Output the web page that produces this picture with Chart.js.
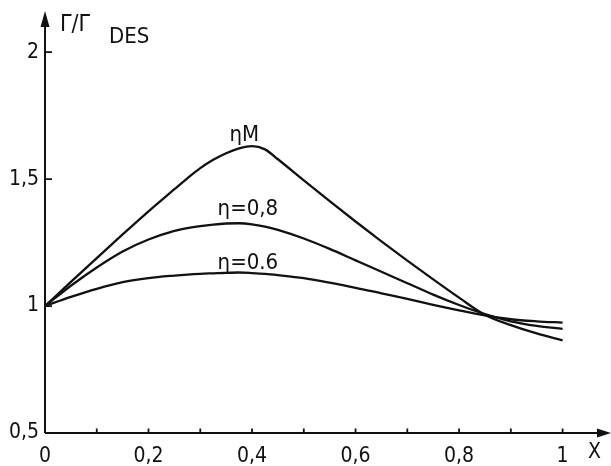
<!DOCTYPE html>
<html>
<head>
<meta charset="utf-8">
<script src="https://cdn.jsdelivr.net/npm/chart.js@4.4.0/dist/chart.umd.min.js"></script>
<style>
body{margin:0;background:#fff}
#wrap{width:611px;height:466px}
</style>
</head>
<body>
<div id="wrap"><canvas id="chart" width="611" height="466"></canvas></div>
<script>
// values
var x_vals=[0,0.05,0.1,0.15,0.2,0.25,0.275,0.3,0.325,0.35,0.375,0.4,0.425,0.45,0.5,0.55,0.6,0.65,0.7,0.75,0.8,0.85,0.9,0.95,1];
var eta_m=[1,1.095,1.189,1.282,1.373,1.46,1.503,1.543,1.576,1.602,1.621,1.63,1.617,1.578,1.495,1.413,1.333,1.255,1.179,1.105,1.033,0.965,0.925,0.892,0.865];
var eta_08=[1,1.08,1.152,1.215,1.262,1.296,1.307,1.315,1.321,1.325,1.326,1.322,1.313,1.30,1.266,1.225,1.18,1.135,1.09,1.045,1.004,0.968,0.94,0.922,0.91];
var eta_06=[1,1.036,1.068,1.094,1.11,1.12,1.124,1.127,1.129,1.131,1.132,1.130,1.127,1.122,1.11,1.092,1.072,1.05,1.028,1.005,0.983,0.963,0.948,0.94,0.935];
var x_ticks=[0,0.1,0.2,0.3,0.4,0.5,0.6,0.7,0.8,0.9,1];
var y_ticks=[0.5,1,1.5,2];
var curve_names=['ηM','η=0,8','η=0.6'];

var font_name='"DejaVu Sans Condensed","DejaVu Sans",sans-serif';

function fmt(v){
    if(v===0||v===1||v===2) return String(v);
    return v.toFixed(1).replace('.',',');
}
function pts(ys){
    return x_vals.map((x,i)=>({x:x,y:ys[i]}));
}

//draws the axes with arrows, inner tick marks and the texts
const axes_plugin={
    id:'axes_plugin',
    afterDraw(chart){
        const ctx=chart.ctx, xs=chart.scales.x, ys=chart.scales.y;
        const x0=xs.getPixelForValue(0), y0=ys.getPixelForValue(0.5);
        ctx.save();
        ctx.strokeStyle='#111';
        ctx.fillStyle='#111';
        ctx.lineWidth=2;
        ctx.beginPath();
        ctx.moveTo(x0,y0);ctx.lineTo(x0,20);
        ctx.moveTo(x0,y0);ctx.lineTo(603,y0);
        ctx.stroke();
        //arrow heads
        ctx.beginPath();
        ctx.moveTo(x0,11);ctx.lineTo(x0-4.5,27);ctx.lineTo(x0+4.5,27);ctx.closePath();
        ctx.fill();
        ctx.beginPath();
        ctx.moveTo(611,y0);ctx.lineTo(597,y0-4.5);ctx.lineTo(597,y0+4.5);ctx.closePath();
        ctx.fill();
        //tick marks
        ctx.lineWidth=1.8;
        ctx.beginPath();
        x_ticks.forEach(v=>{
            if(v===0) return;
            const px=xs.getPixelForValue(v);
            ctx.moveTo(px,y0);ctx.lineTo(px,y0-4.5);
        });
        y_ticks.forEach(v=>{
            if(v===0.5) return;
            const py=ys.getPixelForValue(v);
            ctx.moveTo(x0,py);ctx.lineTo(x0+7,py);
        });
        ctx.stroke();
        //texts
        ctx.textBaseline='middle';
        ctx.textAlign='left';
        ctx.font='23px '+font_name;
        ctx.fillText('Γ/Γ',60,25);
        ctx.font='22px '+font_name;
        ctx.fillText('DES',109,37);
        ctx.font='21px '+font_name;
        ctx.fillText('X',588,453);
        ctx.textAlign='center';
        ctx.font='22px '+font_name;
        const spots=[[0.385,1.672],[0.392,1.38],[0.392,1.17]];
        curve_names.forEach((t,i)=>{
            ctx.fillText(t,xs.getPixelForValue(spots[i][0]),ys.getPixelForValue(spots[i][1]));
        });
        ctx.restore();
    }
};

const line_style={
    borderColor:'#111',
    borderWidth:2.3,
    pointRadius:0,
    fill:false,
    cubicInterpolationMode:'monotone'
};

new Chart(document.getElementById('chart').getContext('2d'),{
    type:'line',
    data:{
        datasets:[
            Object.assign({label:curve_names[0],data:pts(eta_m)},line_style),
            Object.assign({label:curve_names[1],data:pts(eta_08)},line_style),
            Object.assign({label:curve_names[2],data:pts(eta_06)},line_style)
        ]
    },
    options:{
        responsive:false,
        animation:false,
        devicePixelRatio:1,
        layout:{padding:{top:12,right:7,left:0,bottom:0}},
        plugins:{legend:{display:false},tooltip:{enabled:false}},
        scales:{
            x:{
                type:'linear',
                min:0,max:1.08,
                afterBuildTicks(scale){scale.ticks=x_ticks.map(v=>({value:v}));},
                afterFit(scale){scale.height=33;},
                grid:{display:false,drawTicks:false},
                border:{display:false},
                ticks:{
                    color:'#111',
                    padding:11,
                    maxRotation:0,
                    autoSkip:false,
                    font:{family:font_name,size:21},
                    callback:function(v){
                        const k=Math.round(v*10);
                        return k%2===0?fmt(k/10):'';
                    }
                }
            },
            y:{
                type:'linear',
                min:0.5,max:2.132,
                afterBuildTicks(scale){scale.ticks=y_ticks.map(v=>({value:v}));},
                afterFit(scale){scale.width=45;},
                grid:{display:false,drawTicks:false},
                border:{display:false},
                ticks:{
                    color:'#111',
                    padding:6,
                    autoSkip:false,
                    font:{family:font_name,size:21},
                    callback:function(v){return fmt(v);}
                }
            }
        }
    },
    plugins:[axes_plugin]
});
</script>
</body>
</html>
